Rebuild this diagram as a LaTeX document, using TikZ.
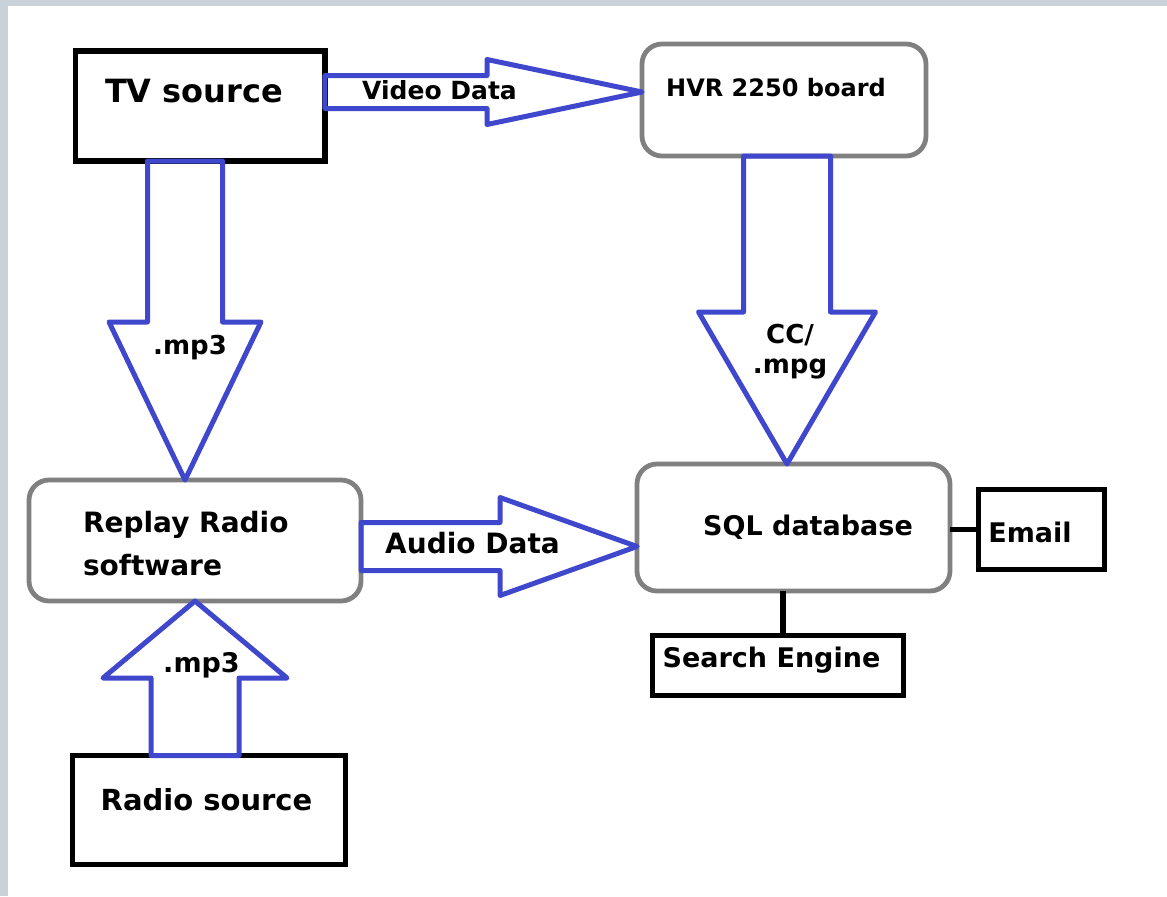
\documentclass[tikz,border=0pt]{standalone}
\usepackage{fontspec}
\setmainfont{DejaVu Sans}
\usetikzlibrary{calc}
\definecolor{paintblue}{RGB}{63,72,204}
\definecolor{boxgray}{RGB}{128,128,128}
\definecolor{edgegray}{RGB}{200,210,216}
\begin{document}
\begin{tikzpicture}[x=0.75pt,y=-0.75pt,
  blackbox/.style={draw=black,line width=4pt,inner sep=0pt,outer sep=0pt},
  graybox/.style={draw=boxgray,line width=3.6pt,rounded corners=15pt,inner sep=0pt,outer sep=0pt},
  blk/.style={draw=paintblue,line width=3.75pt,line join=round},
  conn/.style={draw=black,line width=4pt},
  lbl/.style={inner sep=0pt,outer sep=0pt,anchor=base,font=\bfseries\fontsize{#1}{#1}\selectfont},
  lbl/.default=20.25pt,
  lblw/.style={inner sep=0pt,outer sep=0pt,anchor=base west,font=\bfseries\fontsize{21pt}{21pt}\selectfont}]
\useasboundingbox (0,0) rectangle (1167,896);
\fill[white] (0,0) rectangle (1167,896);
\fill[edgegray] (0,0) rectangle (1167,6);
\fill[edgegray] (0,0) rectangle (8,896);

% boxes
\node[blackbox, minimum width=187.1pt, minimum height=82.5pt] (tv) at (200.25,106) {};
\node[graybox, minimum width=213pt, minimum height=84pt] (hvr) at (784,100) {};
\node[graybox, minimum width=249pt, minimum height=90.75pt] (replay) at (195,540.5) {};
\node[graybox, minimum width=234.75pt, minimum height=95.25pt] (sql) at (793.5,527.5) {};
\node[blackbox, minimum width=94.5pt, minimum height=60pt] (email) at (1041.5,529.5) {};
\node[blackbox, minimum width=188.25pt, minimum height=45pt] (search) at (778,665.5) {};
\node[blackbox, minimum width=204.75pt, minimum height=81.75pt] (radio) at (209,810) {};

% plain connectors
\draw[conn] (sql.east |- email.west) -- (email.west);
\coordinate (sconn) at ($(search.north)+(5,0)$);
\draw[conn] (sconn) -- (sconn |- sql.south);

% block arrows
\coordinate (vtip) at ($(hvr.west)+(0,-8)$);
\coordinate (vtail) at (tv.east |- vtip);
\draw[blk] ($(vtail)+(0,-16.5)$) -- ($(vtip)+(-155,-16.5)$) -- ($(vtip)+(-155,-32.5)$) -- (vtip)
  -- ($(vtip)+(-155,32.5)$) -- ($(vtip)+(-155,16.5)$) -- ($(vtail)+(0,16.5)$) -- cycle;

\coordinate (mtip) at ($(replay.north)+(-10,0)$);
\coordinate (mtail) at (mtip |- tv.south);
\draw[blk] ($(mtail)+(-37.5,0)$) -- ($(mtip)+(-37.5,-158)$) -- ($(mtip)+(-76,-158)$) -- (mtip)
  -- ($(mtip)+(76,-158)$) -- ($(mtip)+(37.5,-158)$) -- ($(mtail)+(37.5,0)$) -- cycle;

\coordinate (rtip) at (replay.south);
\coordinate (rtail) at (rtip |- radio.north);
\draw[blk] ($(rtail)+(-44,0)$) -- ($(rtip)+(-44,77)$) -- ($(rtip)+(-92,77)$) -- (rtip)
  -- ($(rtip)+(92,77)$) -- ($(rtip)+(44,77)$) -- ($(rtail)+(44,0)$) -- cycle;

\coordinate (ctip) at ($(sql.north)+(-6.5,0)$);
\coordinate (ctail) at (ctip |- hvr.south);
\draw[blk] ($(ctail)+(-43.5,0)$) -- ($(ctip)+(-43.5,-152)$) -- ($(ctip)+(-88.5,-152)$) -- (ctip)
  -- ($(ctip)+(88.5,-152)$) -- ($(ctip)+(43.5,-152)$) -- ($(ctail)+(43.5,0)$) -- cycle;

\coordinate (atip) at ($(sql.west)+(0,19)$);
\coordinate (atail) at (replay.east |- atip);
\draw[blk] ($(atail)+(0,-24)$) -- ($(atip)+(-137,-24)$) -- ($(atip)+(-137,-49)$) -- (atip)
  -- ($(atip)+(-137,49)$) -- ($(atip)+(-137,24)$) -- ($(atail)+(0,24)$) -- cycle;

% labels
\node[lbl=24pt] (tvl) at (194,102) {TV source};
\node[lbl=18pt] (hvrl) at (776,96) {HVR 2250 board};
\node[lbl=18.75pt] (vdl) at (439.5,99) {Video Data};
\node[lbl=19.5pt] (mp3a) at (190,354) {.mp3};
\node[lbl=19.5pt] (ccl) at (790,343) {CC/};
\node[lbl=19.5pt] (mpgl) at (790,373) {.mpg};
\node[lblw] (rl1) at (83,532) {Replay Radio};
\node[lblw] (rl2) at (83,575) {software};
\node[lbl=21pt] (adl) at (472.5,553) {Audio Data};
\node[lbl] (sqll) at (808,535) {SQL database};
\node[lbl] (emaill) at (1030,542) {Email};
\node[lbl] (searchl) at (771.5,667) {Search Engine};
\node[lbl] (mp3b) at (201.5,672) {.mp3};
\node[lbl=21.75pt] (radiol) at (206.5,810) {Radio source};
\end{tikzpicture}
\end{document}
